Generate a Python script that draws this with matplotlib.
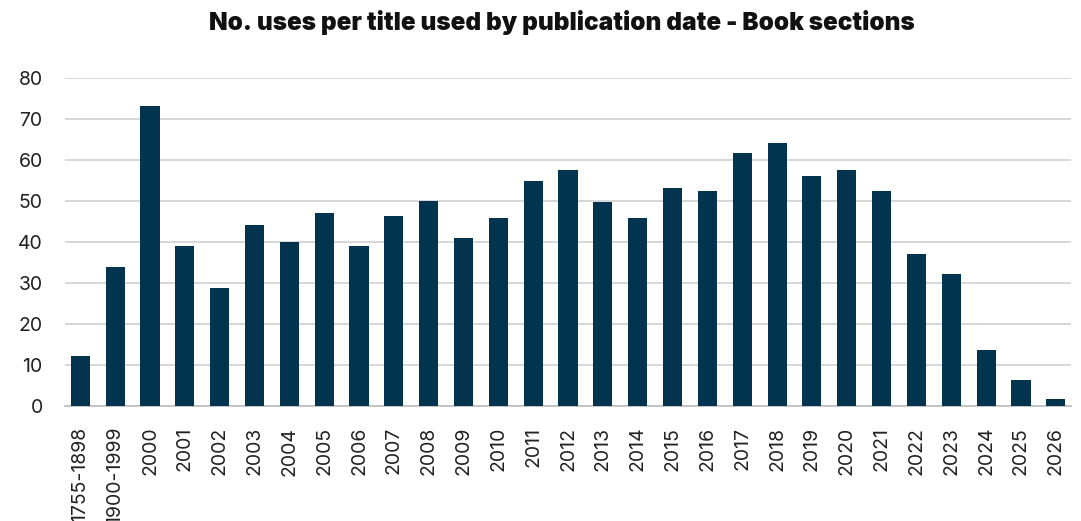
import matplotlib
matplotlib.use("Agg")
import numpy as np
import matplotlib.pyplot as plt

categories = ["1755-1898", "1900-1999", "2000", "2001", "2002", "2003", "2004",
              "2005", "2006", "2007", "2008", "2009", "2010", "2011", "2012",
              "2013", "2014", "2015", "2016", "2017", "2018", "2019", "2020",
              "2021", "2022", "2023", "2024", "2025", "2026"]
uses_per_title = [12.2, 33.9, 73.1, 39.0, 28.8, 44.1, 40.0, 47.0, 39.0, 46.3,
                  50.0, 40.9, 45.8, 54.8, 57.5, 49.7, 45.8, 53.1, 52.4, 61.7,
                  64.1, 56.1, 57.5, 52.4, 37.0, 32.2, 13.6, 6.3, 1.7]

plt.rcParams['font.family'] = ['Inter', 'DejaVu Sans']

fig = plt.figure(figsize=(10.81, 5.21), dpi=100)
ax = fig.add_axes([0.060, 0.2207, 0.931, 0.6302])

x = np.arange(len(categories))
ax.bar(x, uses_per_title, width=0.55, color='#02344F', zorder=3)

ax.set_ylim(0, 80)
ax.set_xlim(-0.445, len(categories) - 1 + 0.445)
ax.set_yticks(range(0, 81, 10))
ax.set_xticks(x)
ax.set_xticklabels(categories, rotation=90)
ax.tick_params(axis='both', length=0, labelsize=14, colors='#222222')
ax.tick_params(axis='y', pad=16)
ax.tick_params(axis='x', pad=15)

ax.grid(axis='y', color='#d4d4d4', linewidth=1.3, zorder=0)
for s in ['top', 'right', 'left']:
    ax.spines[s].set_visible(False)
ax.spines['bottom'].set_color('#bfbfbf')
ax.spines['bottom'].set_linewidth(1.3)

fig.text(0.520, 0.957, 'No. uses per title used by publication date - Book sections',
         ha='center', va='center', fontsize=17.5, fontweight='black', color='#111111')

fig.savefig('out.png', dpi=100)
